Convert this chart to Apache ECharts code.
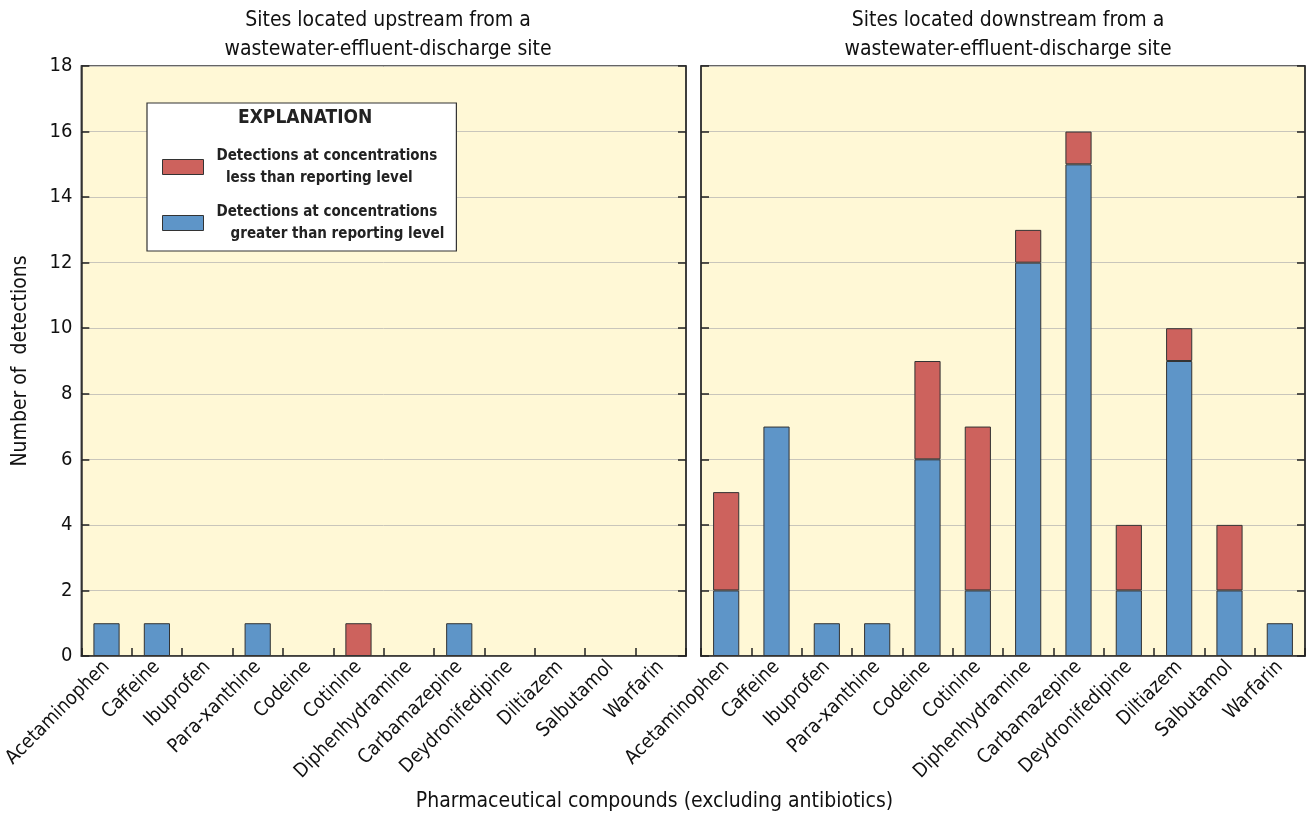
<!DOCTYPE html>
<html>
<head>
<meta charset="utf-8">
<script src="https://cdn.jsdelivr.net/npm/echarts@6/dist/echarts.min.js"></script>
<style>
  html, body { margin: 0; padding: 0; background: #fff; }
  #chart { width: 1309px; height: 820px; }
</style>
</head>
<body>
<div id="chart"></div>
<script>
// compounds on the x axis
const compounds = ['Acetaminophen', 'Caffeine', 'Ibuprofen', 'Para-xanthine', 'Codeine', 'Cotinine',
  'Diphenhydramine', 'Carbamazepine', 'Deydronifedipine', 'Diltiazem', 'Salbutamol', 'Warfarin'];

// upstream sites
const upGreater = [1, 1, 0, 1, 0, 0, 0, 1, 0, 0, 0, 0];
const upLess    = [0, 0, 0, 0, 0, 1, 0, 0, 0, 0, 0, 0];
// downstream sites
const downGreater = [2, 7, 1, 1, 6, 2, 12, 15, 2, 9, 2, 1];
const downLess    = [3, 0, 0, 0, 3, 5, 1, 1, 2, 1, 2, 0];

const yTicks = [0, 2, 4, 6, 8, 10, 12, 14, 16, 18];

const nameLess = 'Detections at concentrations\n  less than reporting level';
const nameGreater = 'Detections at concentrations\n   greater than reporting level';

const FONT = "'Liberation Sans Narrow', 'DejaVu Sans Condensed', sans-serif";
const RED = '#cd625d';
const BLUE = '#5e95c8';
const BG = '#fff8d6';

const chart = echarts.init(document.getElementById('chart'));

function xAxisFor(gi) {
  return {
    type: 'category', gridIndex: gi, data: compounds,
    axisLine: { lineStyle: { color: '#333', width: 1.5 } },
    axisTick: { show: true, inside: true, length: 8, interval: 0, lineStyle: { color: '#222', width: 1.5 } },
    axisLabel: { rotate: 45, fontSize: 19.5, color: '#111', fontFamily: FONT, margin: 8, interval: 0 }
  };
}
function yAxisFor(gi, pos, labels) {
  return {
    type: 'value', gridIndex: gi, position: pos, min: 0, max: 18, interval: 2,
    axisLine: { show: true, lineStyle: { color: '#333', width: 1.5 } },
    axisTick: { show: true, inside: true, length: 8, lineStyle: { color: '#222', width: 1.5 } },
    axisLabel: {
      show: labels, fontSize: 20, color: '#111', fontFamily: FONT, margin: 9,
      formatter: v => yTicks.includes(v) ? String(v) : ''
    },
    splitLine: { show: pos === 'left', lineStyle: { color: '#c9c6bb', width: 1 } }
  };
}

function barSeries(name, data, xi, yi, color) {
  return {
    name, type: 'bar', stack: 'g' + xi, xAxisIndex: xi, yAxisIndex: yi,
    data: data.map(v => (v === 0 ? '-' : v)), barWidth: '52%',
    itemStyle: { color, borderColor: '#333', borderWidth: 1 },
    emphasis: { disabled: true }
  };
}

chart.setOption({
  animation: false,
  textStyle: { fontFamily: FONT },
  title: [
    { text: 'Sites located upstream from a\nwastewater-effluent-discharge site', left: 383, top: 1, textAlign: 'center',
      textStyle: { fontSize: 21, fontWeight: 'normal', color: '#111', lineHeight: 29, fontFamily: FONT } },
    { text: 'Sites located downstream from a\nwastewater-effluent-discharge site', left: 1003, top: 1, textAlign: 'center',
      textStyle: { fontSize: 21, fontWeight: 'normal', color: '#111', lineHeight: 29, fontFamily: FONT } }
  ],
  grid: [
    { left: 80, right: 623, top: 66, bottom: 164, show: true, backgroundColor: BG, borderColor: '#333', borderWidth: 1.5 },
    { left: 701, right: 4, top: 66, bottom: 164, show: true, backgroundColor: BG, borderColor: '#333', borderWidth: 1.5 }
  ],
  xAxis: [xAxisFor(0), xAxisFor(1)],
  yAxis: [
    Object.assign(yAxisFor(0, 'left', true), {
      name: 'Number of  detections', nameLocation: 'middle', nameGap: 50,
      nameTextStyle: { fontSize: 21, color: '#111', fontFamily: FONT }
    }),
    yAxisFor(0, 'right', false),
    yAxisFor(1, 'left', false),
    yAxisFor(1, 'right', false)
  ],
  legend: {
    left: 147, top: 103,
    orient: 'vertical', icon: 'rect',
    data: [nameLess, nameGreater],
    backgroundColor: '#fff', borderColor: '#333', borderWidth: 1.2,
    padding: [42, 12, 6, 15],
    itemGap: 12, itemWidth: 41, itemHeight: 15,
    selectedMode: false,
    itemStyle: { borderColor: '#333', borderWidth: 1 },
    textStyle: { fontSize: 15, fontWeight: 'bold', color: '#222', lineHeight: 22, fontFamily: FONT, padding: [0, 0, 0, 8] }
  },
  graphic: [
    { type: 'text', left: 238, top: 109, z: 100,
      style: { text: 'EXPLANATION', fontSize: 19, fontWeight: 'bold', fill: '#222', fontFamily: FONT } },
    { type: 'text', left: 'center', top: 791,
      style: { text: 'Pharmaceutical compounds (excluding antibiotics)', fontSize: 21, fill: '#111', fontFamily: FONT } }
  ],
  series: [
    barSeries(nameGreater, upGreater, 0, 0, BLUE),
    barSeries(nameLess, upLess, 0, 0, RED),
    barSeries(nameGreater, downGreater, 1, 2, BLUE),
    barSeries(nameLess, downLess, 1, 2, RED)
  ]
});
</script>
</body>
</html>
